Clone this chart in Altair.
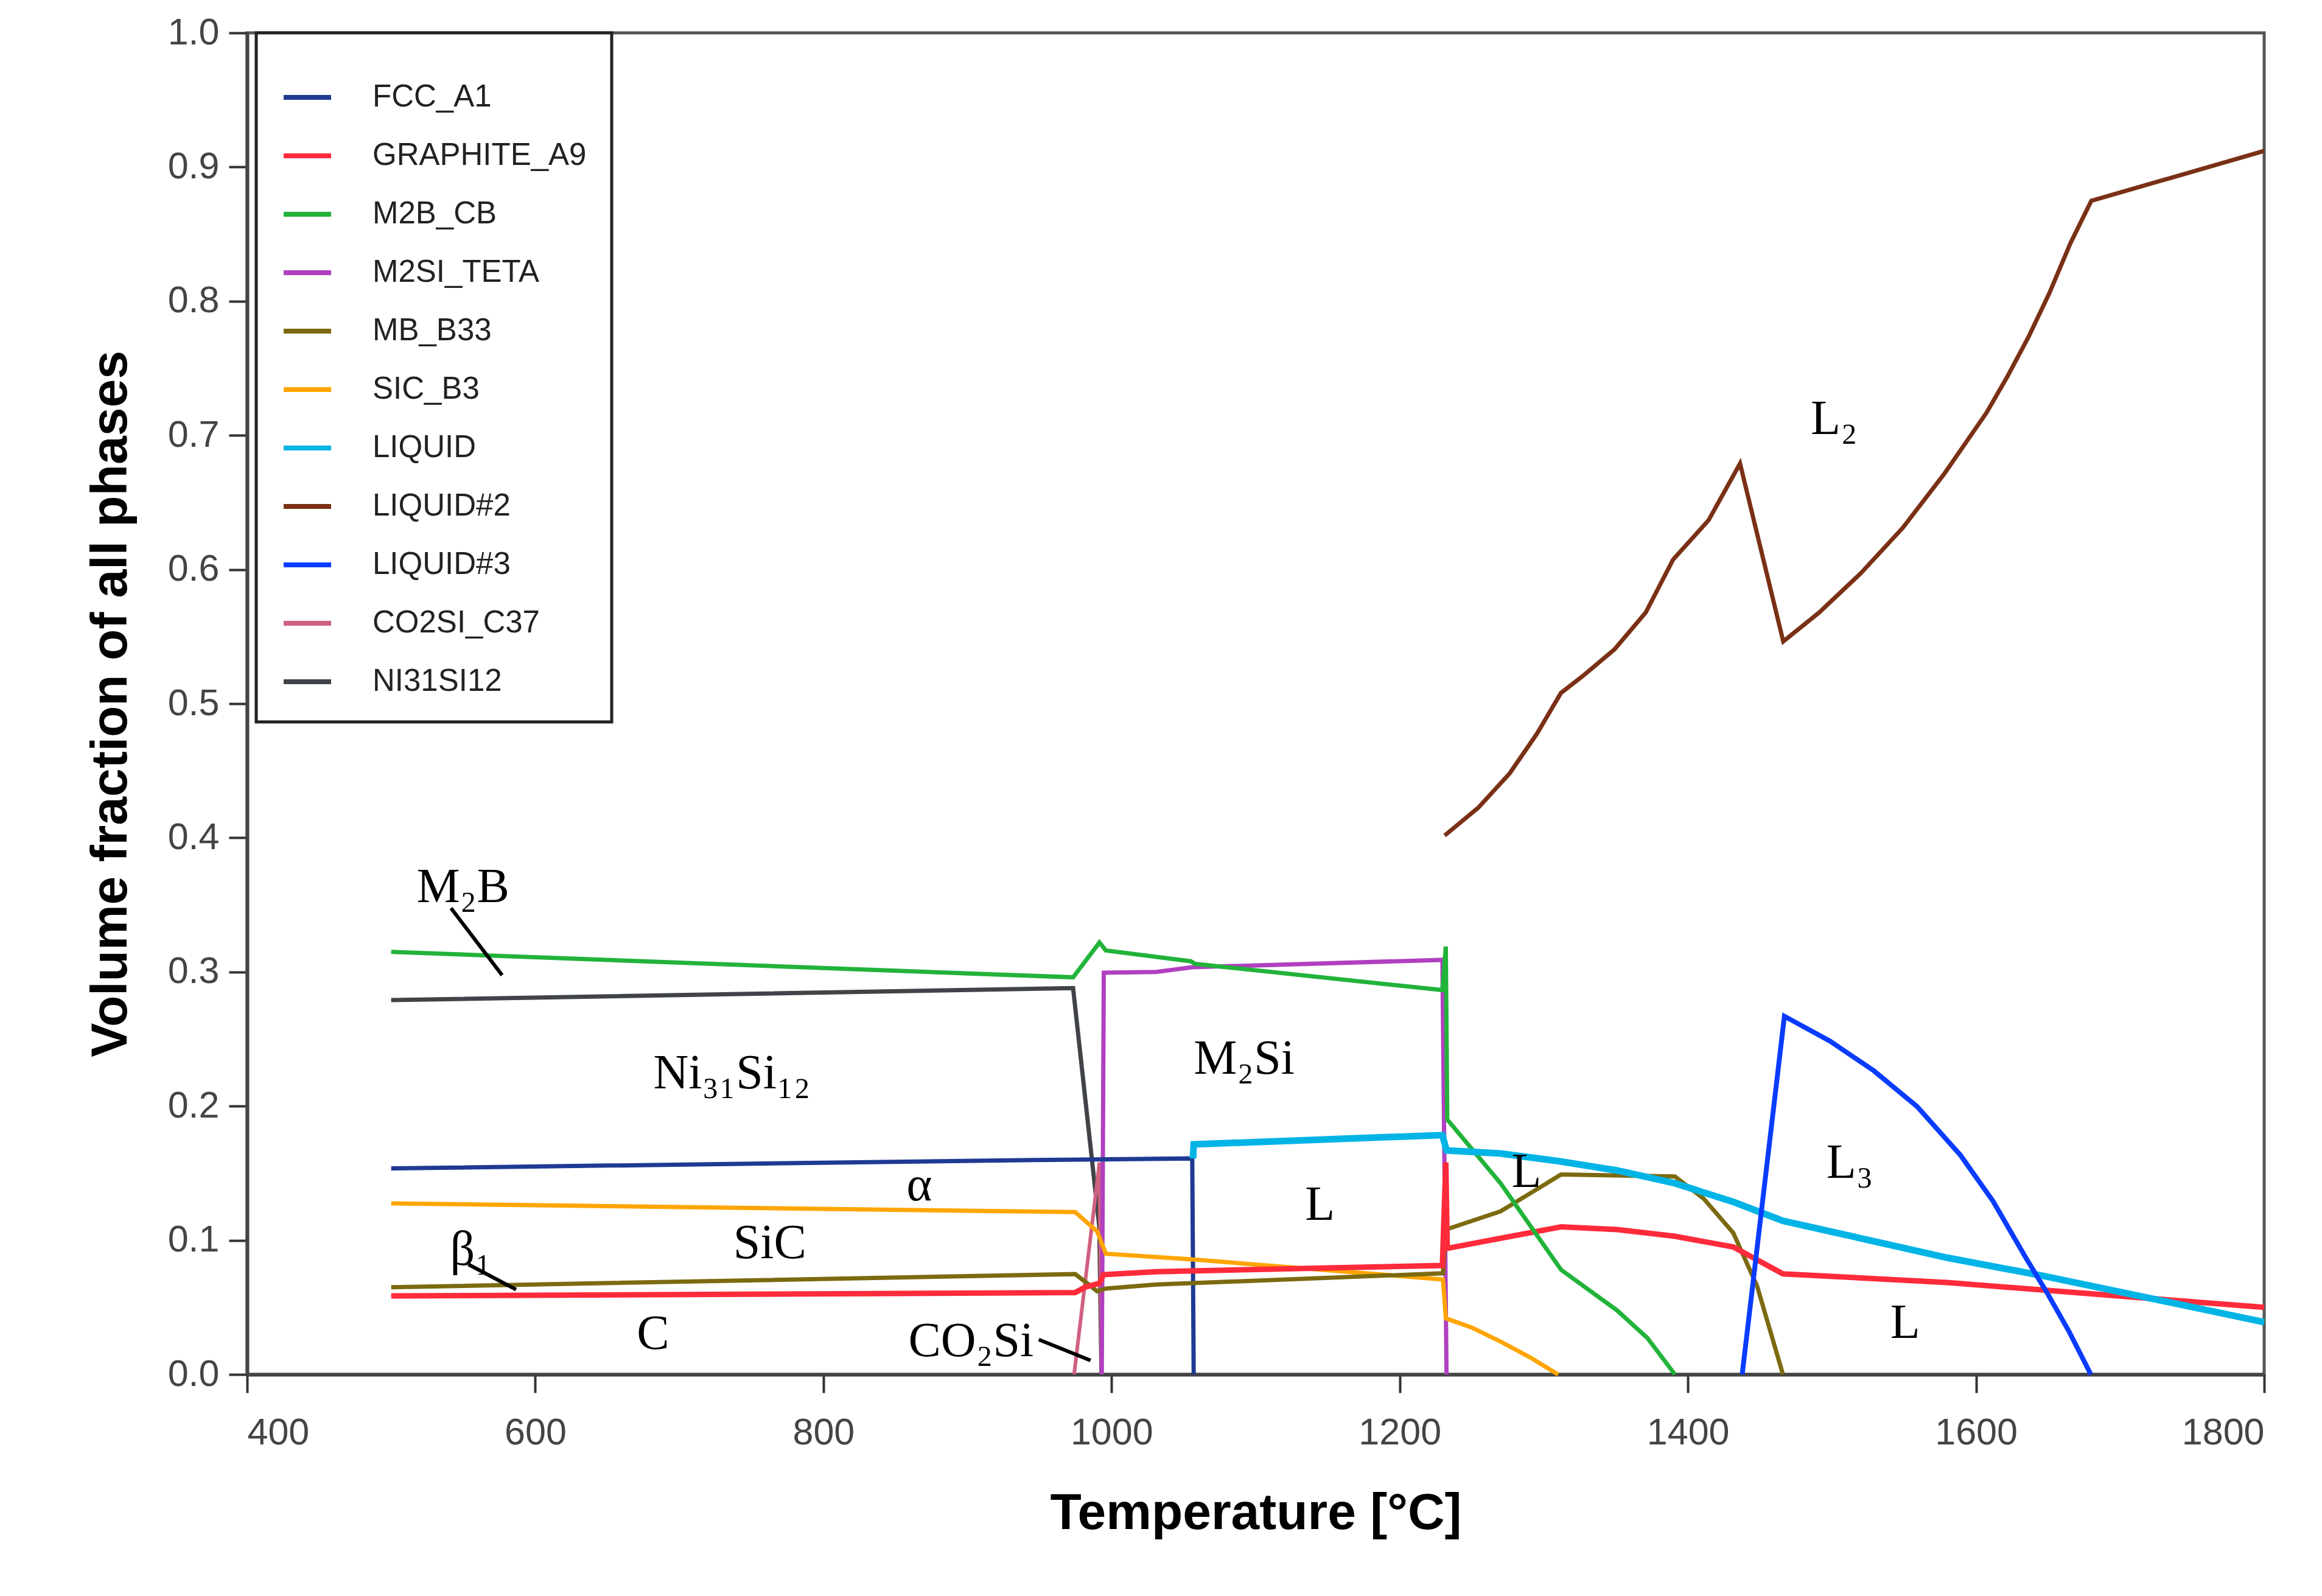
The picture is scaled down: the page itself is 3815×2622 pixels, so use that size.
import altair as alt
import pandas as pd

# ---- data ----
PHASES = ["FCC_A1", "GRAPHITE_A9", "M2B_CB", "M2SI_TETA", "MB_B33", "SIC_B3",
          "LIQUID", "LIQUID#2", "LIQUID#3", "CO2SI_C37", "NI31SI12"]
COLORS = ["#1f3a93", "#ff2b3b", "#22b33a", "#b040c0", "#7b6a10", "#ffa500",
          "#00b4e6", "#7a3015", "#0a3cff", "#d06080", "#404448"]
WIDTHS = [7, 9, 7, 7, 7, 7, 11, 7, 8, 6, 7]

FCC_T = [500, 946.6, 1056, 1057]
FCC_V = [0.1536, 0.1598, 0.161, 0.0]

GRAPHITE_T = [500, 974.8, 981.6, 991.6, 994.4, 1031, 1229.6, 1232, 1233, 1312, 1351, 1391, 1431.5, 1466, 1580, 1800]
GRAPHITE_V = [0.0585, 0.061, 0.065, 0.068, 0.0744, 0.0766, 0.0812, 0.158, 0.094, 0.110, 0.108, 0.103, 0.095, 0.075, 0.0685, 0.050]

M2B_T = [500, 973.3, 991.6, 996, 1055, 1058, 1229.6, 1232, 1233, 1270, 1312, 1351, 1372, 1391]
M2B_V = [0.315, 0.296, 0.322, 0.316, 0.308, 0.306, 0.2865, 0.319, 0.190, 0.1425, 0.078, 0.0476, 0.027, 0.0]

M2SI_T = [993.2, 994.6, 1031, 1056, 1229.6, 1232.5]
M2SI_V = [0.0, 0.2995, 0.300, 0.3035, 0.309, 0.0]

MB_T = [500, 974.8, 983, 990, 996, 1031, 1230, 1232, 1270, 1312, 1391, 1411, 1431.5, 1448, 1466]
MB_V = [0.065, 0.0748, 0.068, 0.062, 0.064, 0.067, 0.0754, 0.108, 0.1216, 0.149, 0.1476, 0.131, 0.1055, 0.066, 0.0]

SIC_T = [500, 974.8, 990, 996, 1056, 1230, 1232, 1250, 1270, 1290, 1310]
SIC_V = [0.1275, 0.121, 0.1066, 0.090, 0.0857, 0.0708, 0.0418, 0.035, 0.0245, 0.013, 0.0]

LIQ_T = [1056.5, 1057, 1229.6, 1232.5, 1270, 1310, 1351, 1391, 1431.5, 1466, 1580, 1645.6, 1800]
LIQ_V = [0.161, 0.1715, 0.1784, 0.167, 0.1647, 0.159, 0.152, 0.1425, 0.1286, 0.1145, 0.087, 0.0737, 0.039]

LIQ2_T = [1231.2, 1254.5, 1276.3, 1295.2, 1311.9, 1327.2, 1349, 1370.8, 1389.7,
          1414.4, 1436.2, 1466.2, 1491, 1520, 1549.1, 1578.2, 1607.3, 1621.8,
          1636.4, 1650.9, 1665.5, 1680, 1800]
LIQ2_V = [0.4017, 0.4224, 0.448, 0.4775, 0.508, 0.5207, 0.5404, 0.568, 0.6073,
          0.6368, 0.679, 0.5464, 0.5678, 0.5972, 0.631, 0.6717, 0.7169, 0.7439,
          0.7733, 0.806, 0.8432, 0.8748, 0.912]

LIQ3_T = [1437.7, 1467, 1498.7, 1528.9, 1559.1, 1589.2, 1611.9, 1634.5, 1649.6, 1664.7, 1679.7]
LIQ3_V = [0.0, 0.267, 0.2484, 0.2265, 0.1997, 0.1634, 0.129, 0.0871, 0.0603, 0.0317, 0.0]

CO2SI_T = [974, 991.6, 993]
CO2SI_V = [0.0, 0.158, 0.0]

NI31_T = [500, 973.3, 991.5, 993]
NI31_V = [0.279, 0.288, 0.11, 0.0]

SERIES = {
    "FCC_A1": (FCC_T, FCC_V),
    "GRAPHITE_A9": (GRAPHITE_T, GRAPHITE_V),
    "M2B_CB": (M2B_T, M2B_V),
    "M2SI_TETA": (M2SI_T, M2SI_V),
    "MB_B33": (MB_T, MB_V),
    "SIC_B3": (SIC_T, SIC_V),
    "LIQUID": (LIQ_T, LIQ_V),
    "LIQUID#2": (LIQ2_T, LIQ2_V),
    "LIQUID#3": (LIQ3_T, LIQ3_V),
    "CO2SI_C37": (CO2SI_T, CO2SI_V),
    "NI31SI12": (NI31_T, NI31_V),
}
DRAW_ORDER = ["NI31SI12", "CO2SI_C37", "M2SI_TETA", "FCC_A1", "SIC_B3", "MB_B33",
              "GRAPHITE_A9", "M2B_CB", "LIQUID", "LIQUID#2", "LIQUID#3"]

LABEL_TEXT = ["M₂B", "Ni₃₁Si₁₂", "M₂Si", "α", "SiC", "β₁", "C", "CO₂Si",
              "L", "L", "L₂", "L₃", "L"]
LABEL_T = [549.8, 736.5, 1092, 866.6, 762.8, 555.4, 681.7, 902.4,
           1144.7, 1288, 1501.5, 1512.4, 1550.8]
LABEL_V = [0.363, 0.224, 0.235, 0.1407, 0.0975, 0.0924, 0.030, 0.0246,
           0.126, 0.1506, 0.712, 0.1576, 0.0383]

LEAD_T1 = [541.5, 553.6, 949.5]
LEAD_V1 = [0.3476, 0.082, 0.026]
LEAD_T2 = [577, 586.7, 985.4]
LEAD_V2 = [0.2976, 0.0632, 0.0104]

X_TICKS = [400, 600, 800, 1000, 1200, 1400, 1600, 1800]
Y_TICKS = [0.0, 0.1, 0.2, 0.3, 0.4, 0.5, 0.6, 0.7, 0.8, 0.9, 1.0]

# ---- build tables ----
rows = []
for p, (ts, vs) in SERIES.items():
    for i, (t, v) in enumerate(zip(ts, vs)):
        rows.append({"phase": p, "T": t, "v": v, "i": i})
df = pd.DataFrame(rows)
labels = pd.DataFrame({"text": LABEL_TEXT, "T": LABEL_T, "v": LABEL_V})
leads = pd.DataFrame({"T1": LEAD_T1, "v1": LEAD_V1, "T2": LEAD_T2, "v2": LEAD_V2})

xscale = alt.Scale(domain=[400, 1800], nice=False, zero=False)
yscale = alt.Scale(domain=[0, 1], nice=False)

xaxis = alt.Axis(title="Temperature [°C]", values=X_TICKS, format="d",
                 titleX=1657, titleY=228, titleBaseline="middle", titleAlign="center",
                 labelPadding=36, tickSize=30)
yaxis = alt.Axis(title="Volume fraction of all phases", values=Y_TICKS, format=".1f",
                 titleX=-224, titleY=1102, titleBaseline="middle", titleAlign="center",
                 titleAngle=270, labelPadding=16, tickSize=30)

color = alt.Color("phase:N", scale=alt.Scale(domain=PHASES, range=COLORS),
                  legend=alt.Legend(title=" ", titleFontSize=14, titlePadding=8,
                                    orient="none", legendX=15, legendY=0,
                                    symbolType="stroke", symbolSize=6084,
                                    symbolStrokeWidth=8, labelOffset=64,
                                    labelLimit=800,
                                    padding=41, rowPadding=28,
                                    strokeColor="#222", fillColor="white"))

layers = []
for p in DRAW_ORDER:
    w = WIDTHS[PHASES.index(p)]
    layers.append(
        alt.Chart(df).transform_filter(alt.datum.phase == p)
        .mark_line(strokeWidth=w, strokeJoin="miter")
        .encode(x=alt.X("T:Q", scale=xscale, axis=xaxis),
                y=alt.Y("v:Q", scale=yscale, axis=yaxis),
                color=color, order="i:Q")
    )

lead_layer = alt.Chart(leads).mark_rule(color="black", strokeWidth=6).encode(
    x="T1:Q", y="v1:Q", x2="T2:Q", y2="v2:Q")

text_layer = alt.Chart(labels).mark_text(font="Liberation Serif", fontSize=80,
                                         color="black", align="center",
                                         baseline="middle").encode(
    x="T:Q", y="v:Q", text="text:N")

chart = alt.layer(*layers, lead_layer, text_layer).properties(
    width=3314, height=2204,
    autosize=alt.AutoSizeParams(type="none"),
    padding={"left": 398, "top": 46, "right": 60, "bottom": 300},
    background="white",
).configure_view(
    stroke="#555", strokeWidth=5
).configure_axis(
    grid=False, domainColor="#444", domainWidth=6, tickColor="#333", tickWidth=4,
    labelFont="Liberation Sans", labelFontSize=61, labelColor="#444",
    titleFont="Liberation Sans", titleFontSize=84, titleFontWeight="bold",
    titleColor="black"
).configure_legend(
    labelFont="Liberation Sans", labelFontSize=51, labelColor="#222",
    strokeWidth=5
)

chart.save("out.html", embed_options={"renderer": "svg", "actions": False})
